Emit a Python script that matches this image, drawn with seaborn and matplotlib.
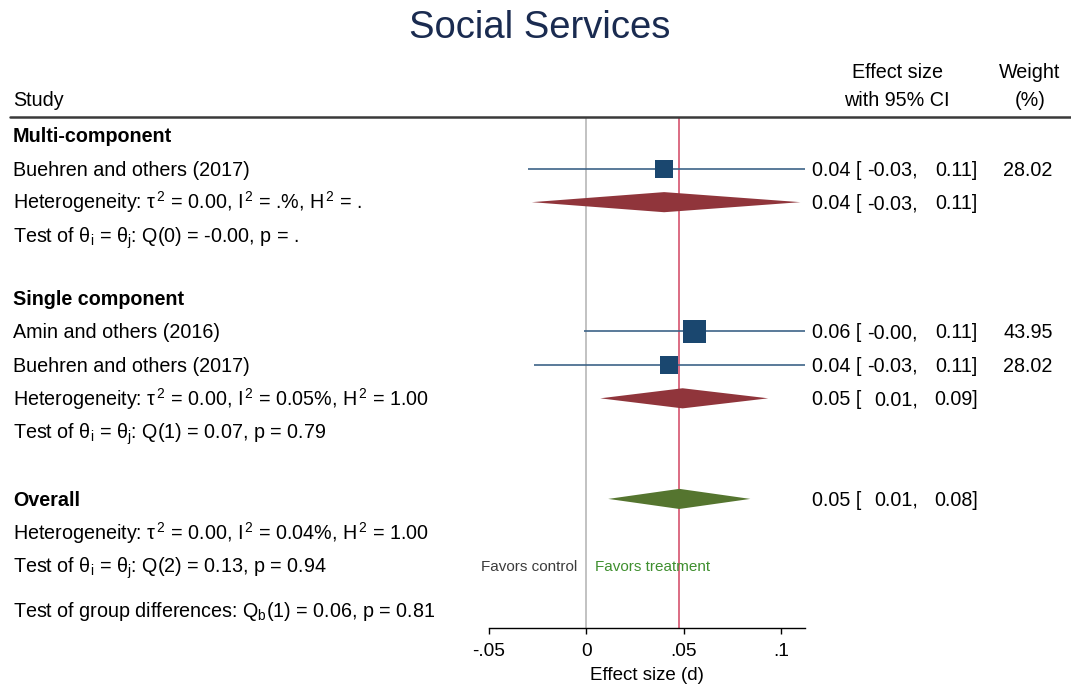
import matplotlib
matplotlib.use('Agg')
import matplotlib.pyplot as plt
import matplotlib.transforms as mtransforms
from matplotlib.lines import Line2D
import seaborn as sns
import pandas as pd

# study level estimates
study_names = ['Buehren and others (2017)', 'Amin and others (2016)', 'Buehren and others (2017)']
study_group = ['Multi-component', 'Single component', 'Single component']
study_es = [0.0400, 0.0555, 0.0427]
study_lo = [-0.0298, -0.0010, -0.0267]
study_hi = [0.1124, 0.1124, 0.1124]
study_weight = [28.02, 43.95, 28.02]

# subgroup pooled estimates
group_names = ['Multi-component', 'Single component']
group_es = [0.0400, 0.0495]
group_lo = [-0.0280, 0.0072]
group_hi = [0.1100, 0.0935]
group_tau2 = ['0.00', '0.00']
group_i2 = ['.%', '0.05%']
group_h2 = ['.', '1.00']
group_q = ['Q(0) = -0.00, p = .', 'Q(1) = 0.07, p = 0.79']

# overall
overall_es = 0.0478
overall_lo = 0.0113
overall_hi = 0.0843
overall_tau2 = '0.00'
overall_i2 = '0.04%'
overall_h2 = '1.00'
overall_q = 'Q(2) = 0.13, p = 0.94'
group_diff = 'Q$_\\mathregular{b}$(1) = 0.06, p = 0.81'

x_ticks = [-0.05, 0, 0.05, 0.1]
x_tick_labels = ['-.05', '0', '.05', '.1']

NAVY = '#1a476f'
MAROON = '#90353b'
GREEN = '#55752f'
FONT = ['Liberation Sans', 'DejaVu Sans']
W, H = 1071, 684
BASE = 0.21  # baseline offset below row centre, in row units
SQ = '$\\mathregular{^{\\,2}}$'


def het_text(tau2, i2, h2):
    return f'Heterogeneity: τ{SQ} = {tau2}, I{SQ} = {i2}, H{SQ} = {h2}'


def q_text(q):
    return f'Test of θ$_\\mathregular{{i}}$ = θ$_\\mathregular{{j}}$: {q}'


def ci_texts(ax, tr, yy, es, lo, hi, fs):
    ax.text(812 / W, yy + BASE, f'{es:.2f} [', transform=tr, fontsize=fs, va='baseline')
    ax.text(918 / W, yy + BASE, f'{lo:.2f},', transform=tr, fontsize=fs, va='baseline', ha='right')
    ax.text(978 / W, yy + BASE, f'{hi:.2f}]', transform=tr, fontsize=fs, va='baseline', ha='right')


def main():
    sns.set_style('white')
    plt.rcParams['font.family'] = FONT
    plt.rcParams['mathtext.fontset'] = 'custom'
    plt.rcParams['mathtext.rm'] = 'Liberation Sans'
    plt.rcParams['mathtext.it'] = 'Liberation Sans:italic'
    plt.rcParams['text.color'] = 'black'
    plt.rcParams['axes.labelcolor'] = 'black'
    plt.rcParams['xtick.color'] = 'black'
    plt.rcParams['xtick.bottom'] = True
    fs = 14.2

    fig = plt.figure(figsize=(10.71, 6.84), dpi=100)
    ax = fig.add_axes([489 / W, 1 - 628 / H, (805 - 489) / W, (628 - 117) / H])
    ax.set_xlim(-0.05, 0.1124)
    ax.set_ylim(14.7, -0.54)
    tr = mtransforms.blended_transform_factory(fig.transFigure, ax.transData)

    # row layout
    rows = []
    y = 0.0
    study_df = pd.DataFrame({'name': study_names, 'group': study_group, 'es': study_es,
                             'lo': study_lo, 'hi': study_hi, 'weight': study_weight})
    study_rows = []
    for g, gname in enumerate(group_names):
        rows.append((y, 'header', gname))
        y += 1
        for i, r in study_df[study_df['group'] == gname].iterrows():
            rows.append((y, 'study', i))
            study_rows.append((i, y))
            y += 1
        rows.append((y, 'group', g))
        y += 1
        rows.append((y, 'q', group_q[g]))
        y += 1.85
    y += 0.15
    rows.append((y, 'header', 'Overall'))
    rows.append((y, 'overall', None))
    y += 1
    rows.append((y, 'het', het_text(overall_tau2, overall_i2, overall_h2)))
    y += 1
    rows.append((y, 'q', overall_q))
    q_overall_y = y
    y += 1.3
    rows.append((y, 'diff', 'Test of group differences: ' + group_diff))

    study_df['row'] = [yy for _, yy in sorted(study_rows)]

    # reference lines
    ax.axvline(0, color='#bdbdbd', lw=1.3, zorder=1)
    ax.axvline(overall_es, color='#d9607a', lw=1.3, zorder=1)

    # CI whiskers and squares
    ax.hlines(study_df['row'], study_df['lo'], study_df['hi'], color='#3d6488', lw=1.2, zorder=2)
    sns.scatterplot(data=study_df, x='es', y='row', marker='s', color=NAVY,
                    s=list(study_df['weight'] * 6.0), linewidth=0, zorder=3, ax=ax, legend=False)

    def diamond(es, lo, hi, yy, color):
        ax.fill([lo, es, hi, es], [yy, yy - 0.3, yy, yy + 0.3], color=color, lw=0, zorder=3)

    def left_text(yy, txt, **kw):
        ax.text(13 / W, yy + BASE, txt, transform=tr, fontsize=fs, va='baseline', **kw)

    for yy, kind, p in rows:
        if kind == 'header':
            left_text(yy, p, fontweight='bold')
        elif kind == 'study':
            r = study_df.loc[p]
            left_text(yy, r['name'])
            ci_texts(ax, tr, yy, r['es'], r['lo'], r['hi'], fs)
            ax.text(1028 / W, yy + BASE, f"{r['weight']:.2f}", transform=tr, fontsize=fs,
                    va='baseline', ha='center')
        elif kind == 'group':
            left_text(yy, het_text(group_tau2[p], group_i2[p], group_h2[p]))
            diamond(group_es[p], group_lo[p], group_hi[p], yy, MAROON)
            ci_texts(ax, tr, yy, group_es[p], group_lo[p], group_hi[p], fs)
        elif kind == 'overall':
            diamond(overall_es, overall_lo, overall_hi, yy, GREEN)
            ci_texts(ax, tr, yy, overall_es, overall_lo, overall_hi, fs)
        elif kind == 'q':
            left_text(yy, q_text(p))
        elif kind in ('het', 'diff'):
            left_text(yy, p)

    # favors labels
    ax.text(-0.0045, q_overall_y + 0.16, 'Favors control', fontsize=11, color='#3c3c3c',
            ha='right', va='baseline')
    ax.text(0.0045, q_overall_y + 0.16, 'Favors treatment', fontsize=11, color='#3f8f2f',
            ha='left', va='baseline')

    # headers
    fig.text(540 / W, 1 - 28 / H, 'Social Services', fontsize=27.5, color='#1a2b50',
             ha='center', va='center')
    fig.text(13 / W, 1 - 100 / H, 'Study', fontsize=fs, va='center')
    fig.text(897 / W, 1 - 72 / H, 'Effect size', fontsize=fs, va='center', ha='center')
    fig.text(897 / W, 1 - 100 / H, 'with 95% CI', fontsize=fs, va='center', ha='center')
    fig.text(1030 / W, 1 - 72 / H, 'Weight', fontsize=fs, va='center', ha='center')
    fig.text(1030 / W, 1 - 100 / H, '(%)', fontsize=fs, va='center', ha='center')
    fig.add_artist(Line2D([10 / W, 1], [1 - 117 / H, 1 - 117 / H], color='#3a3a3a', lw=1.8))

    # axis styling
    for s in ['top', 'left', 'right']:
        ax.spines[s].set_visible(False)
    ax.spines['bottom'].set_color('black')
    ax.spines['bottom'].set_linewidth(1.0)
    ax.set_yticks([])
    ax.set_ylabel('')
    ax.set_xticks(x_ticks)
    ax.set_xticklabels(x_tick_labels, fontsize=13.8)
    ax.tick_params(axis='x', bottom=True, direction='out', length=4.5, width=1.0,
                   color='black', pad=6.5)
    ax.set_xlabel('Effect size (d)', fontsize=13.5, labelpad=4.5)
    ax.patch.set_alpha(0)

    fig.savefig('out.png', dpi=100)


if __name__ == '__main__':
    main()
